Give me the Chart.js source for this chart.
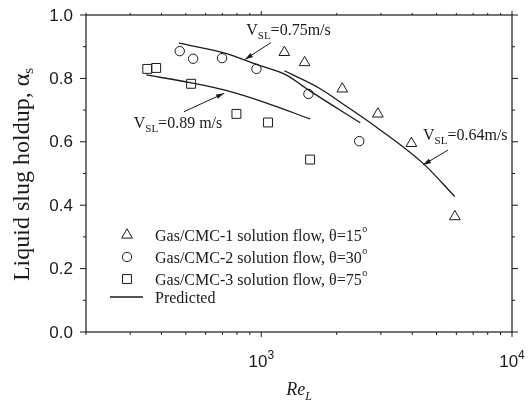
<!DOCTYPE html>
<html><head><meta charset="utf-8">
<script src="https://cdn.jsdelivr.net/npm/chart.js@4.4.0/dist/chart.umd.min.js"></script>
<style>html,body{margin:0;padding:0;background:#fff;}#wrap{width:528px;height:405px;}</style>
</head><body><div id="wrap"><canvas id="c" width="528" height="405"></canvas></div>
<script>
// ---- data ----
const reTri = [1236, 1489, 2104, 2918, 3970, 5916];
const holdTri = [0.882, 0.850, 0.767, 0.688, 0.595, 0.364];
const reCir = [473, 535, 698, 957, 1542, 2459];
const holdCir = [0.886, 0.862, 0.864, 0.830, 0.751, 0.602];
const reSq = [351, 381, 525, 796, 1064, 1566];
const holdSq = [0.830, 0.833, 0.783, 0.688, 0.661, 0.544];
const rePred075 = [470, 723, 957, 1255, 1546, 2482];
const holdPred075 = [0.911, 0.879, 0.844, 0.811, 0.763, 0.660];
const rePred064 = [1236, 1706, 2104, 2918, 4420, 5916];
const holdPred064 = [0.824, 0.769, 0.721, 0.643, 0.532, 0.427];
const rePred089 = [348, 525, 723, 1044, 1566];
const holdPred089 = [0.811, 0.786, 0.762, 0.723, 0.672];
const legendLabels = ['Gas/CMC-1 solution flow, \u03b8=15', 'Gas/CMC-2 solution flow, \u03b8=30', 'Gas/CMC-3 solution flow, \u03b8=75', 'Predicted'];
const yTickValues = [0, 0.2, 0.4, 0.6, 0.8, 1.0];
const yTickLabels = ['0.0', '0.2', '0.4', '0.6', '0.8', '1.0'];
const yMinorValues = [0.1, 0.3, 0.5, 0.7, 0.9];
const xMajorValues = [1000, 10000];
const xTickBase = ['10', '10'];
const xTickExp = ['3', '4'];
const xMinorValues = [200, 300, 400, 500, 600, 700, 800, 900, 2000, 3000, 4000, 5000, 6000, 7000, 8000, 9000];
const annotTexts = ['=0.75m/s', '=0.89 m/s', '=0.64m/s'];
// annotation anchors in data units: [textX, textY, tailX, tailY, headX, headY]
const annotAnchors = [
  [871, 0.938, 1094, 0.913, 861, 0.860],
  [310, 0.643, 492, 0.695, 711, 0.753],
  [4418, 0.606, 5559, 0.574, 4418, 0.527]
];

const SERIF = '"Liberation Serif","Times New Roman",serif';
const SANS = '"Liberation Sans",Arial,sans-serif';
const INK = '#1a1a1a';

function toXY(xs, ys) { return xs.map((x, i) => ({x: x, y: ys[i]})); }

function shape(ctx, style, x, y, r) {
  ctx.beginPath();
  if (style === 'triangle') {
    let a = 0;
    ctx.moveTo(x + Math.sin(a) * r, y - Math.cos(a) * r);
    a += 2 * Math.PI / 3;
    ctx.lineTo(x + Math.sin(a) * r, y - Math.cos(a) * r);
    a += 2 * Math.PI / 3;
    ctx.lineTo(x + Math.sin(a) * r, y - Math.cos(a) * r);
    ctx.closePath();
  } else if (style === 'circle') {
    ctx.arc(x, y, r, 0, Math.PI * 2);
  } else {
    const s = Math.SQRT1_2 * r;
    ctx.rect(x - s, y - s, 2 * s, 2 * s);
  }
  ctx.stroke();
}

function drawParts(ctx, x, y, parts, align) {
  let w = 0;
  parts.forEach(p => { ctx.font = p.font; w += ctx.measureText(p.t).width; });
  let cx = align === 'center' ? x - w / 2 : x;
  parts.forEach(p => {
    ctx.font = p.font;
    ctx.fillText(p.t, cx, y + (p.dy || 0));
    cx += ctx.measureText(p.t).width;
  });
  return w;
}

function arrow(ctx, x1, y1, x2, y2) {
  ctx.beginPath(); ctx.moveTo(x1, y1); ctx.lineTo(x2, y2); ctx.stroke();
  const a = Math.atan2(y2 - y1, x2 - x1), L = 8, W = 2.4;
  ctx.beginPath();
  ctx.moveTo(x2, y2);
  ctx.lineTo(x2 - L * Math.cos(a) + W * Math.sin(a), y2 - L * Math.sin(a) - W * Math.cos(a));
  ctx.lineTo(x2 - L * Math.cos(a) - W * Math.sin(a), y2 - L * Math.sin(a) + W * Math.cos(a));
  ctx.closePath(); ctx.fill();
}

const decor = {
  id: 'decor',
  afterDraw(chart) {
    const ctx = chart.ctx, a = chart.chartArea, sx = chart.scales.x, sy = chart.scales.y;
    ctx.save();
    ctx.strokeStyle = INK; ctx.fillStyle = INK; ctx.lineWidth = 1.2;
    ctx.strokeRect(a.left, a.top, a.right - a.left, a.bottom - a.top);
    ctx.lineWidth = 1;
    ctx.beginPath();
    yTickValues.forEach(v => { const y = sy.getPixelForValue(v);
      ctx.moveTo(a.left - 6, y); ctx.lineTo(a.left, y);
      ctx.moveTo(a.right, y); ctx.lineTo(a.right + 6, y); });
    yMinorValues.forEach(v => { const y = sy.getPixelForValue(v);
      ctx.moveTo(a.left - 3, y); ctx.lineTo(a.left, y);
      ctx.moveTo(a.right, y); ctx.lineTo(a.right + 3, y); });
    xMinorValues.forEach(v => { const x = sx.getPixelForValue(v);
      ctx.moveTo(x, a.bottom); ctx.lineTo(x, a.bottom + 3);
      ctx.moveTo(x, a.top); ctx.lineTo(x, a.top - 2); });
    xMajorValues.forEach(v => { const x = sx.getPixelForValue(v);
      ctx.moveTo(x, a.bottom); ctx.lineTo(x, a.bottom + 5);
      ctx.moveTo(x, a.top); ctx.lineTo(x, a.top - 4); });
    ctx.stroke();

    // y tick labels
    ctx.textAlign = 'right'; ctx.textBaseline = 'middle'; ctx.font = '17px ' + SANS;
    yTickValues.forEach((v, i) => ctx.fillText(yTickLabels[i], a.left - 13, sy.getPixelForValue(v) + 1));
    // x tick labels
    ctx.textAlign = 'left'; ctx.textBaseline = 'alphabetic';
    xMajorValues.forEach((v, i) => {
      drawParts(ctx, sx.getPixelForValue(v), a.bottom + 35, [
        {t: xTickBase[i], font: '17px ' + SANS},
        {t: xTickExp[i], font: '12px ' + SANS, dy: -8}], 'center');
    });
    // x title
    const xc = (a.left + a.right) / 2;
    drawParts(ctx, xc, a.bottom + 63, [
      {t: 'Re', font: 'italic 18px ' + SERIF},
      {t: 'L', font: 'italic 12px ' + SERIF, dy: 5}], 'center');
    // y title
    ctx.save();
    ctx.translate(29, (a.top + a.bottom) / 2 + 1);
    ctx.rotate(-Math.PI / 2);
    drawParts(ctx, 0, 0, [
      {t: 'Liquid slug holdup, \u03b1', font: '24px ' + SERIF},
      {t: 's', font: '15px ' + SERIF, dy: 4}], 'center');
    ctx.restore();

    // annotations
    annotAnchors.forEach((an, i) => {
      const tx = sx.getPixelForValue(an[0]), ty = sy.getPixelForValue(an[1]);
      drawParts(ctx, tx, ty, [
        {t: 'V', font: '16px ' + SERIF},
        {t: 'SL', font: '11px ' + SERIF, dy: 4},
        {t: annotTexts[i], font: '16px ' + SERIF}], 'left');
      arrow(ctx, sx.getPixelForValue(an[2]), sy.getPixelForValue(an[3]),
                 sx.getPixelForValue(an[4]), sy.getPixelForValue(an[5]));
    });

    // legend
    const lx = 127, tx = 155, rows = [235, 257, 279, 297];
    const styles = ['triangle', 'circle', 'rect'];
    const radii = [6.2, 4.7, 6.3];
    ctx.lineWidth = 1;
    for (let i = 0; i < 3; i++) {
      shape(ctx, styles[i], lx, rows[i], radii[i]);
      const w = drawParts(ctx, tx, rows[i] + 5.5, [{t: legendLabels[i], font: '16px ' + SERIF}], 'left');
      ctx.font = '10px ' + SERIF;
      ctx.fillText('o', tx + w + 0.5, rows[i] - 3);
    }
    ctx.lineWidth = 1.3;
    ctx.beginPath(); ctx.moveTo(110, rows[3]); ctx.lineTo(143, rows[3]); ctx.stroke();
    drawParts(ctx, tx, rows[3] + 5.5, [{t: legendLabels[3], font: '16px ' + SERIF}], 'left');
    ctx.restore();
  }
};

const pointDs = (data, style, r) => ({
  data: data, showLine: false, pointStyle: style, pointRadius: r, pointHoverRadius: r,
  pointBorderColor: INK, pointBackgroundColor: 'rgba(0,0,0,0)', pointBorderWidth: 1
});
const lineDs = (data) => ({
  data: data, showLine: true, pointRadius: 0, borderColor: INK, borderWidth: 1.3,
  cubicInterpolationMode: 'monotone', fill: false
});

new Chart(document.getElementById('c'), {
  type: 'scatter',
  data: { datasets: [
    pointDs(toXY(reTri, holdTri), 'triangle', 6.2),
    pointDs(toXY(reCir, holdCir), 'circle', 4.7),
    pointDs(toXY(reSq, holdSq), 'rect', 6.3),
    lineDs(toXY(rePred075, holdPred075)),
    lineDs(toXY(rePred064, holdPred064)),
    lineDs(toXY(rePred089, holdPred089))
  ]},
  options: {
    responsive: false, animation: false,
    layout: { padding: { left: 86, right: 16, top: 15, bottom: 73 } },
    plugins: { legend: { display: false }, tooltip: { enabled: false } },
    scales: {
      x: { type: 'logarithmic', min: 200, max: 10000, display: false },
      y: { type: 'linear', min: 0, max: 1, display: false }
    }
  },
  plugins: [decor]
});
</script></body></html>
